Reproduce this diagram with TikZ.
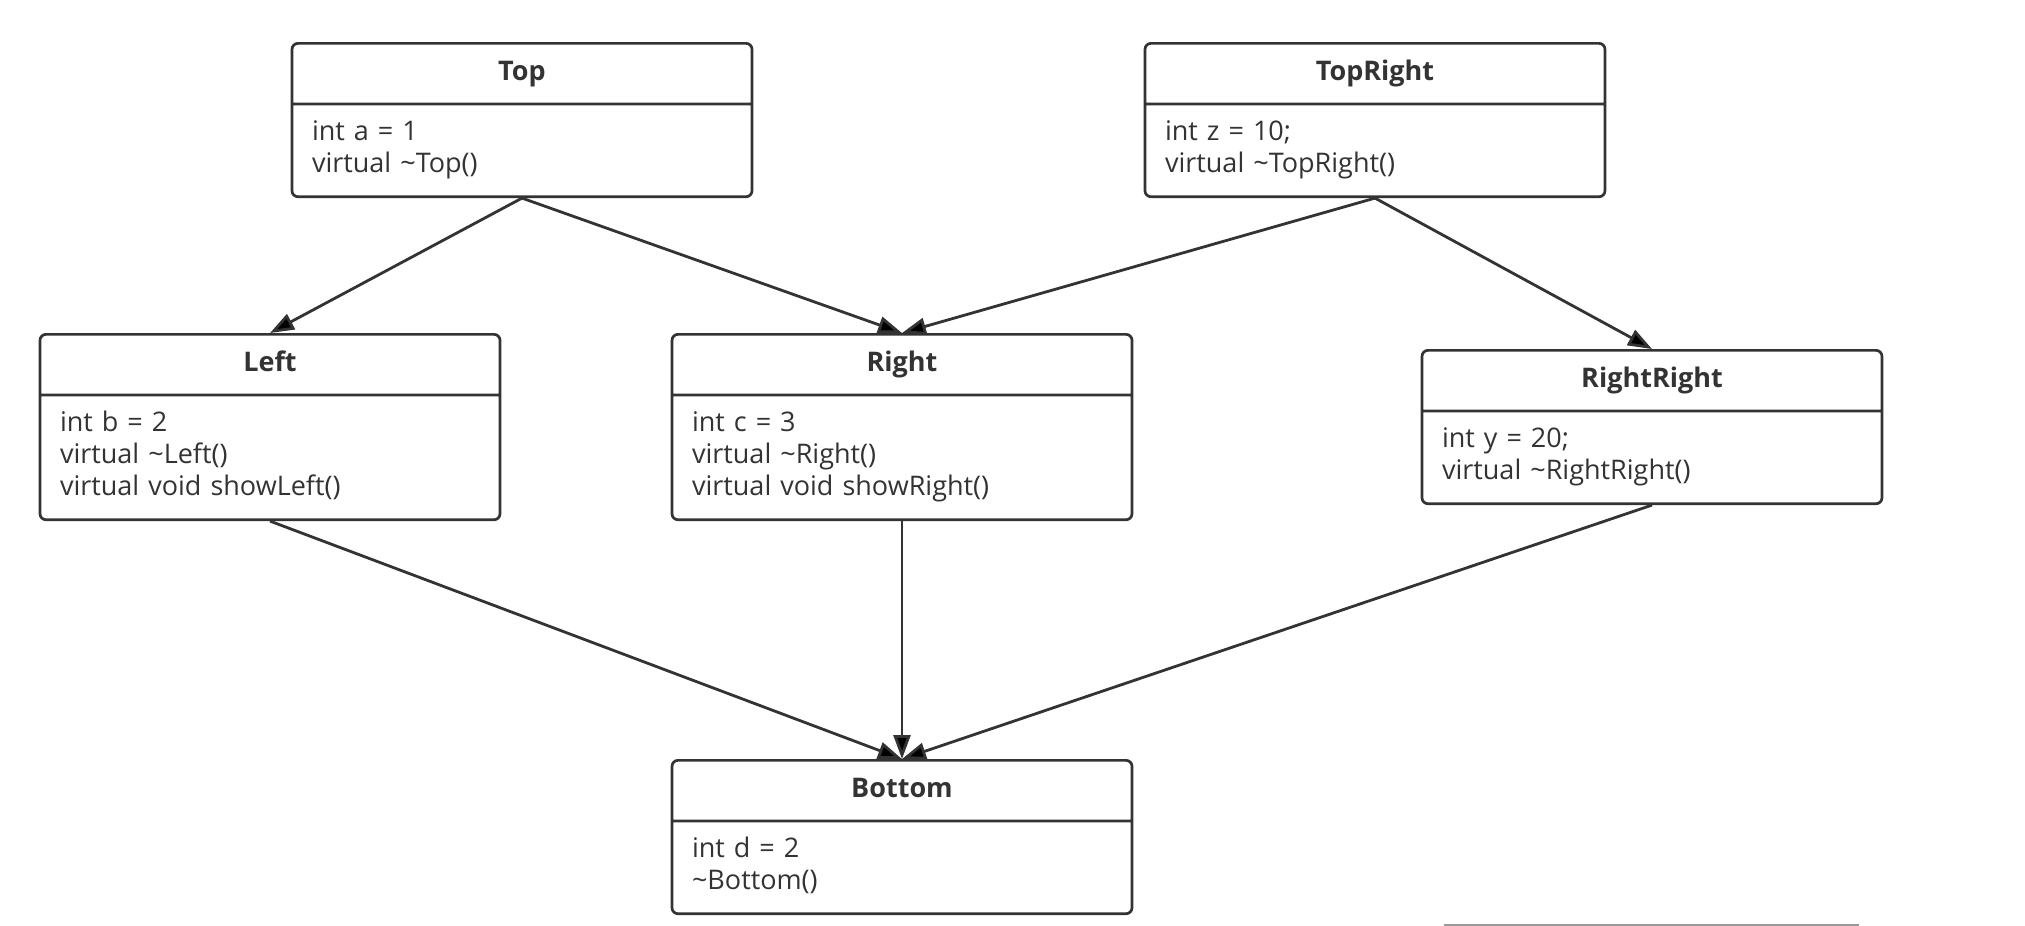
\documentclass[tikz,border=0pt]{standalone}
\usepackage{fontspec}
\setmainfont{Open Sans}
\usetikzlibrary{arrows.meta, positioning, shapes.multipart}
\definecolor{umlgray}{HTML}{333333}

\begin{document}
\begin{tikzpicture}[x=0.5pt, y=-0.5pt,
    cls/.style={rectangle split, rectangle split parts=2, draw=umlgray, line width=1.35pt, rounded corners=3pt, text width=210pt, inner xsep=10pt, inner ysep=6.5pt, align=left, anchor=north, text=umlgray, font=\fontsize{13.5}{16}\selectfont},
    arrow/.style={-{Triangle[length=12pt, width=8.5pt]}, line width=1.4pt, draw=umlgray}
]
    \useasboundingbox (0,0) rectangle (2025,926);

    % Top row
    \node[cls] (top) at (522,42) {\hspace*{\fill}\strut\textbf{Top}\hspace*{\fill}
        \nodepart{two}\strut int a = 1\\virtual \textasciitilde Top()\strut};
    \node[cls] (topright) at (1375,42) {\hspace*{\fill}\strut\textbf{TopRight}\hspace*{\fill}
        \nodepart{two}\strut int z = 10;\\virtual \textasciitilde TopRight()\strut};

    % Middle row
    \node[cls] (left) at (270,333) {\hspace*{\fill}\strut\textbf{Left}\hspace*{\fill}
        \nodepart{two}\strut int b = 2\\virtual \textasciitilde Left()\\virtual void showLeft()\strut};
    \node[cls] (right) at (902,333) {\hspace*{\fill}\strut\textbf{Right}\hspace*{\fill}
        \nodepart{two}\strut int c = 3\\virtual \textasciitilde Right()\\virtual void showRight()\strut};
    \node[cls] (rightright) at (1652,349) {\hspace*{\fill}\strut\textbf{RightRight}\hspace*{\fill}
        \nodepart{two}\strut int y = 20;\\virtual \textasciitilde RightRight()\strut};

    % Bottom
    \node[cls] (bottom) at (902,759) {\hspace*{\fill}\strut\textbf{Bottom}\hspace*{\fill}
        \nodepart{two}\strut int d = 2\\\textasciitilde Bottom()\strut};

    % Inheritance
    \draw[arrow] (top.south) -- (left.north);
    \draw[arrow] (top.south) -- (right.north);
    \draw[arrow] (topright.south) -- (right.north);
    \draw[arrow] (topright.south) -- (rightright.north);

    \draw[arrow] (left.south) -- (bottom.north);
    \draw[arrow] (right.south) -- (bottom.north);
    \draw[arrow] (rightright.south) -- (bottom.north);

    % thin rule at the lower edge
    \draw[gray!80, line width=0.8pt] (1444,925) -- (1859,925);
\end{tikzpicture}
\end{document}
